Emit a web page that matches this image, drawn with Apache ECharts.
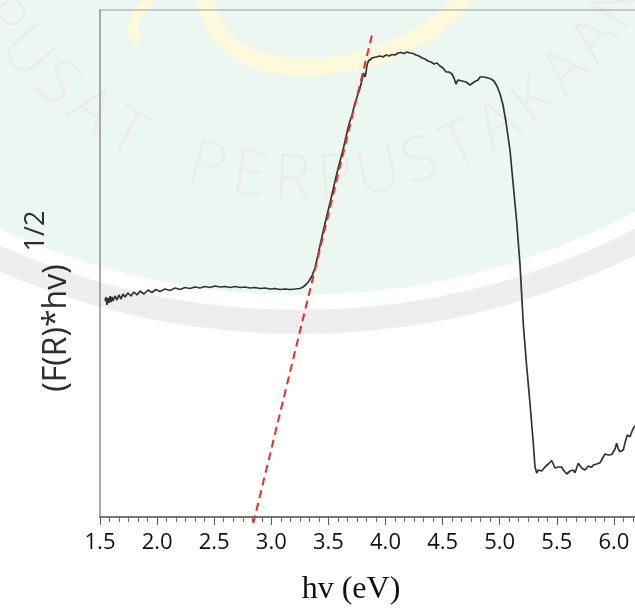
<!DOCTYPE html>
<html>
<head>
<meta charset="utf-8">
<script src="https://cdn.jsdelivr.net/npm/echarts/dist/echarts.min.js"></script>
<style>
  html, body { margin: 0; padding: 0; background: #ffffff; }
  #chart { width: 635px; height: 615px; }
</style>
</head>
<body>
<div id="chart"></div>
<script>
// Tauc plot: (F(R)*hv)^1/2 against photon energy hv (eV)

// x axis range and major step (eV)
const hvRange = [1.5, 6.5];
const hvStep = 0.5;
// signal axis range (arbitrary units, no labels shown)
const signalRange = [0, 5.07];

// measured curve, split by region: [hv (eV), (F(R)*hv)^1/2]
const baseline = [
  [1.544,2.16],[1.553,2.20],[1.561,2.12],[1.570,2.19],[1.579,2.14],[1.588,2.21],[1.596,2.15],
  [1.605,2.20],[1.614,2.16],[1.631,2.21],[1.649,2.17],[1.666,2.22],[1.684,2.18],[1.701,2.23],
  [1.719,2.20],[1.745,2.24],[1.771,2.21],[1.798,2.25],[1.824,2.22],[1.850,2.26],[1.885,2.23],
  [1.920,2.27],[1.955,2.245],[1.990,2.275],[2.025,2.255],[2.069,2.28],[2.113,2.265],[2.157,2.29],
  [2.201,2.275],[2.244,2.295],[2.288,2.285],[2.332,2.30],[2.376,2.29],[2.419,2.305],[2.463,2.295],
  [2.507,2.31],[2.551,2.30],[2.595,2.305],[2.638,2.295],[2.682,2.305],[2.726,2.295],[2.770,2.30],
  [2.813,2.29],[2.857,2.295],[2.901,2.285],[2.945,2.29],[2.989,2.28],[3.032,2.285],[3.076,2.275],
  [3.120,2.28],[3.164,2.275],[3.208,2.28],[3.251,2.285],[3.278,2.30]
];
const absorptionEdge = [
  [3.304,2.325],[3.330,2.36],[3.356,2.41],[3.383,2.49],[3.409,2.62],[3.453,2.85],[3.488,3.02],
  [3.514,3.14],[3.540,3.27],[3.575,3.44],[3.602,3.56],[3.628,3.67],[3.654,3.80],[3.672,3.89],
  [3.689,3.96],[3.707,4.02],[3.733,4.14],[3.759,4.23],[3.777,4.29],[3.794,4.37],[3.807,4.44],
  [3.821,4.40],[3.829,4.44],[3.838,4.52],[3.851,4.56]
];
const plateau = [
  [3.864,4.57],[3.882,4.59],[3.899,4.58],[3.917,4.60],[3.934,4.59],[3.952,4.61],[3.978,4.60],
  [4.004,4.62],[4.031,4.61],[4.057,4.625],[4.083,4.62],[4.109,4.64],[4.136,4.645],[4.162,4.635],
  [4.188,4.65],[4.215,4.64],[4.241,4.635],[4.267,4.62],[4.293,4.61],[4.320,4.59],[4.346,4.58],
  [4.372,4.56],[4.398,4.55],[4.425,4.53],[4.451,4.54],[4.477,4.51],[4.504,4.49],[4.530,4.45],
  [4.556,4.45],[4.582,4.43],[4.600,4.39],[4.617,4.33],[4.635,4.37],[4.652,4.38],[4.670,4.36],
  [4.687,4.37],[4.705,4.35],[4.722,4.36],[4.740,4.32],[4.757,4.30],[4.775,4.35],[4.792,4.36],
  [4.810,4.37],[4.828,4.40],[4.845,4.42],[4.863,4.40],[4.880,4.40],[4.898,4.39],[4.924,4.38],
  [4.950,4.36],[4.976,4.31]
];
const cutoff = [
  [5.003,4.23],[5.029,4.12],[5.055,3.95],[5.090,3.67],[5.117,3.34],[5.149,2.95],[5.178,2.52],
  [5.207,1.92],[5.236,1.51],[5.265,1.14],[5.294,0.74]
];
const tail = [
  [5.309,0.503],[5.324,0.44],[5.338,0.47],[5.353,0.49],[5.368,0.46],[5.382,0.47],[5.397,0.50],
  [5.412,0.52],[5.426,0.53],[5.441,0.55],[5.455,0.563],[5.469,0.53],[5.484,0.49],[5.499,0.51],
  [5.513,0.50],[5.528,0.49],[5.543,0.50],[5.557,0.47],[5.572,0.45],[5.587,0.43],[5.601,0.44],
  [5.616,0.46],[5.630,0.453],[5.644,0.47],[5.659,0.443],[5.674,0.49],[5.688,0.537],[5.703,0.52],
  [5.718,0.49],[5.732,0.50],[5.747,0.47],[5.762,0.49],[5.776,0.51],[5.791,0.49],[5.805,0.497],
  [5.820,0.52],[5.834,0.537],[5.849,0.53],[5.863,0.525],[5.878,0.543],[5.893,0.57],[5.907,0.60],
  [5.922,0.63],[5.937,0.62],[5.951,0.62],[5.966,0.63],[5.981,0.625],[5.995,0.637],[6.010,0.68],
  [6.024,0.737],[6.039,0.68],[6.053,0.653],[6.068,0.665],[6.082,0.67],[6.097,0.74],[6.117,0.82],
  [6.129,0.80],[6.141,0.803],[6.156,0.85],[6.170,0.887],[6.185,0.91],[6.212,0.93],[6.238,0.98]
];
// linear fit of the absorption edge, extrapolated to the energy axis
const tangentLine = [[2.842,-0.063],[3.886,4.84]];

const curve = [].concat(baseline, absorptionEdge, plateau, cutoff, tail);

// faint library stamp behind the plot
const stampText = 'PUSAT PERPUSTAKAAN';
const stampArc = { cx: 305, cy: -187, r: 368, startDeg: 146, stepDeg: 6.75 };
const stampLetters = stampText.split('').map(function (ch, i) {
  const a = (stampArc.startDeg - i * stampArc.stepDeg) * Math.PI / 180;
  return {
    type: 'text', z: -5, silent: true,
    x: stampArc.cx + stampArc.r * Math.cos(a),
    y: stampArc.cy + stampArc.r * Math.sin(a),
    rotation: Math.PI / 2 - a,
    style: {
      text: ch, fill: 'rgba(230,160,175,0.10)',
      font: '300 62px "Open Sans"',
      align: 'center', verticalAlign: 'middle',
      textAlign: 'center', textVerticalAlign: 'middle'
    }
  };
});

const chart = echarts.init(document.getElementById('chart'), null, { renderer: 'canvas' });

chart.setOption({
  backgroundColor: '#ffffff',
  animation: false,
  grid: {
    left: 100, top: 10, width: 571, bottom: 98,
    outerBoundsMode: 'none',
    containLabel: false,
    show: true, borderColor: '#9c9c9c', borderWidth: 1,
    backgroundColor: 'transparent'
  },
  xAxis: {
    type: 'value',
    min: hvRange[0], max: hvRange[1], interval: hvStep,
    axisLine: { lineStyle: { color: '#5c5c5c', width: 1.5 } },
    axisTick: { length: 8, lineStyle: { color: '#5c5c5c', width: 1 } },
    minorTick: { show: true, splitNumber: 6, length: 5, lineStyle: { color: '#6a6a6a', width: 1 } },
    axisLabel: {
      formatter: function (v) { return v.toFixed(1); },
      fontFamily: 'Open Sans', fontSize: 22, color: '#111111', margin: 15
    },
    splitLine: { show: false }
  },
  yAxis: {
    type: 'value',
    min: signalRange[0], max: signalRange[1],
    axisLine: { show: true, lineStyle: { color: '#a8a8a8', width: 2 } },
    axisTick: { show: false },
    axisLabel: { show: false },
    splitLine: { show: false }
  },
  series: [
    {
      name: 'spectrum',
      type: 'line',
      data: curve,
      showSymbol: false,
      smooth: false,
      lineStyle: { color: '#333333', width: 1.7 },
      z: 3
    },
    {
      name: 'tangent',
      type: 'line',
      data: tangentLine,
      showSymbol: false,
      clip: false,
      lineStyle: { color: '#e0302a', width: 2, type: [8, 5] },
      z: 4
    }
  ],
  graphic: [
    // stamp: tinted disc, outer ring, yellow emblem strokes and arched lettering
    { type: 'circle', z: -12, silent: true, shape: { cx: 300, cy: -420, r: 742 },
      style: { fill: 'none', stroke: '#eeeeee', lineWidth: 24 } },
    { type: 'circle', z: -11, silent: true, shape: { cx: 300, cy: -420, r: 715 },
      style: { fill: '#edf7f1' } },
    { type: 'bezierCurve', z: -8, silent: true,
      shape: { x1: 205, y1: -5, x2: 465, y2: -5, cpx1: 215, cpy1: 110, cpx2: 420, cpy2: 70 },
      style: { stroke: '#fcf9dc', lineWidth: 18, fill: 'none' } },
    { type: 'bezierCurve', z: -8, silent: true,
      shape: { x1: 152, y1: -2, x2: 140, y2: 42, cpx1: 130, cpy1: 15, cpx2: 128, cpy2: 35 },
      style: { stroke: '#fcf9dc', lineWidth: 10, fill: 'none' } }
  ].concat(stampLetters, [
    // axis titles
    { type: 'text', x: 351, y: 590, z: 10,
      style: { text: 'hv (eV)', font: '32px "Liberation Serif"', fill: '#111111',
               align: 'center', verticalAlign: 'middle', textAlign: 'center', textVerticalAlign: 'middle' } },
    { type: 'text', x: 57, y: 328, rotation: Math.PI / 2, z: 10,
      style: { text: '(F(R)*hv)', font: '32px "Open Sans"', fill: '#2e2e2e',
               align: 'center', verticalAlign: 'middle', textAlign: 'center', textVerticalAlign: 'middle' } },
    { type: 'text', x: 36, y: 231, rotation: Math.PI / 2, z: 10,
      style: { text: '1/2', font: '27px "Open Sans"', fill: '#2e2e2e',
               align: 'center', verticalAlign: 'middle', textAlign: 'center', textVerticalAlign: 'middle' } }
  ])
});
</script>
</body>
</html>
